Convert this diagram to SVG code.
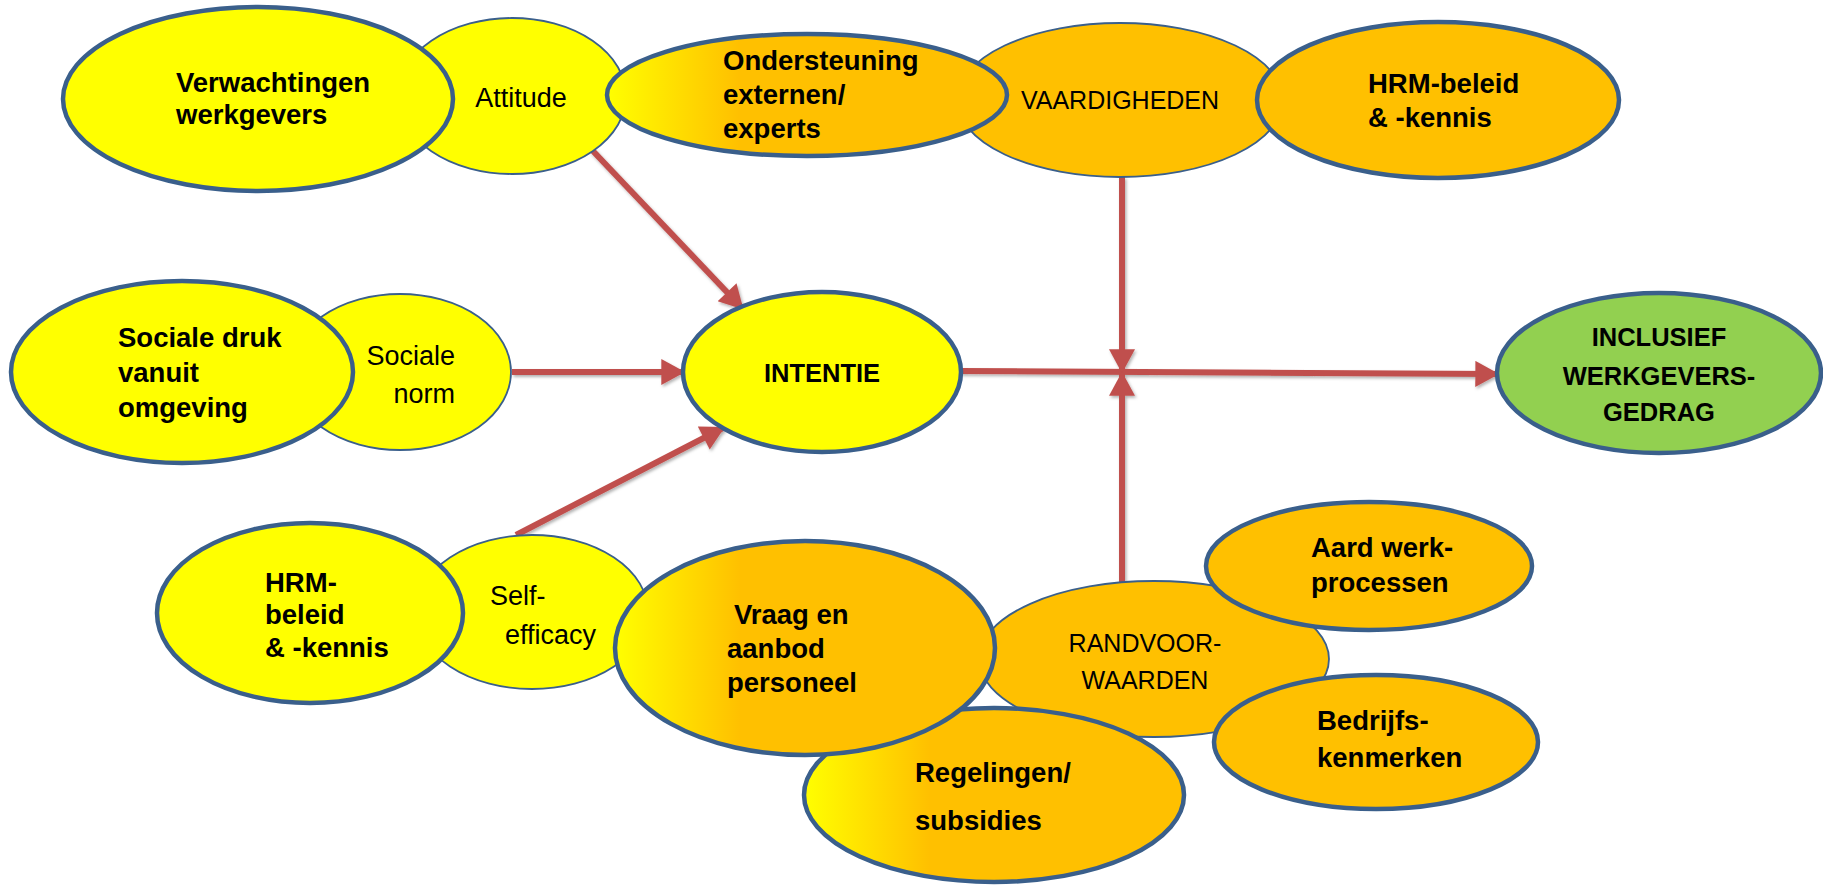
<svg xmlns="http://www.w3.org/2000/svg" width="1823" height="885" viewBox="0 0 1823 885">
<style>
.thick{stroke:#3A5F8B;stroke-width:4.5}
.thin{stroke:#3A5F8B;stroke-width:1.8}
.y{fill:#FFFF00}
.o{fill:#FFC000}
.g{fill:#92D050}
.gr{fill:url(#yo)}
.b{font-family:"Liberation Sans",Arial,sans-serif;font-weight:bold;font-size:27.5px;fill:#000}
.bc{font-family:"Liberation Sans",Arial,sans-serif;font-weight:bold;font-size:25.5px;fill:#000}
.r{font-family:"Liberation Sans",Arial,sans-serif;font-size:27px;fill:#000}
.rc{font-family:"Liberation Sans",Arial,sans-serif;font-size:25px;fill:#000}
.m{text-anchor:middle}
.e{text-anchor:end}
.arr{stroke:#C0504D;stroke-width:6;fill:none;marker-end:url(#ah)}
</style>
<defs>
<linearGradient id="yo" x1="0" y1="0" x2="1" y2="0">
<stop offset="0" stop-color="#FFFF00"/>
<stop offset="0.33" stop-color="#FFC000"/>
<stop offset="1" stop-color="#FFC000"/>
</linearGradient>
<marker id="ah" markerUnits="userSpaceOnUse" markerWidth="26" markerHeight="26" viewBox="0 0 22 24" refX="20" refY="12" orient="auto">
<path d="M0,0 L22,12 L0,24 Z" fill="#C0504D"/>
</marker>
<filter id="sh" filterUnits="userSpaceOnUse" x="0" y="0" width="1823" height="885">
<feDropShadow dx="1.5" dy="2" stdDeviation="1.5" flood-color="#000" flood-opacity="0.3"/>
</filter>
</defs>

<g id="connectors" filter="url(#sh)">
<line class="arr" x1="592" y1="150" x2="742" y2="308"/>
<line class="arr" x1="512" y1="372" x2="683" y2="372"/>
<line class="arr" x1="516" y1="535" x2="723" y2="428"/>
<line class="arr" x1="960" y1="371" x2="1497" y2="374"/>
<line class="arr" x1="1122" y1="177" x2="1122" y2="371"/>
<line class="arr" x1="1122" y1="582" x2="1122" y2="374"/>
</g>

<g id="attitude">
<ellipse class="y thin" cx="512" cy="96" rx="114" ry="78"/>
<text class="r m" x="521" y="107">Attitude</text>
</g>
<g id="verwachtingen">
<ellipse class="y thick" cx="258" cy="99" rx="195" ry="92"/>
<text class="b" x="176" y="92">Verwachtingen</text>
<text class="b" x="176" y="124">werkgevers</text>
</g>
<g id="vaardigheden">
<ellipse class="o thin" cx="1120" cy="100" rx="163" ry="77"/>
<text class="rc m" x="1120" y="109">VAARDIGHEDEN</text>
</g>
<g id="ondersteuning">
<ellipse class="gr thick" cx="807" cy="95" rx="200" ry="61"/>
<text class="b" x="723" y="70">Ondersteuning</text>
<text class="b" x="723" y="104">externen/</text>
<text class="b" x="723" y="138">experts</text>
</g>
<g id="hrm-top">
<ellipse class="o thick" cx="1438" cy="100" rx="181" ry="78"/>
<text class="b" x="1368" y="93">HRM-beleid</text>
<text class="b" x="1368" y="127">&amp; -kennis</text>
</g>

<g id="sociale-norm">
<ellipse class="y thin" cx="400" cy="372" rx="111" ry="78"/>
<text class="r e" x="455" y="365">Sociale</text>
<text class="r e" x="455" y="403">norm</text>
</g>
<g id="sociale-druk">
<ellipse class="y thick" cx="182" cy="372" rx="171" ry="91"/>
<text class="b" x="118" y="347">Sociale druk</text>
<text class="b" x="118" y="382">vanuit</text>
<text class="b" x="118" y="417">omgeving</text>
</g>

<g id="intentie">
<ellipse class="y thick" cx="822" cy="372" rx="139" ry="80"/>
<text class="bc m" x="822" y="382">INTENTIE</text>
</g>

<g id="inclusief">
<ellipse class="g thick" cx="1659" cy="373" rx="162" ry="80"/>
<text class="bc m" x="1659" y="346">INCLUSIEF</text>
<text class="bc m" x="1659" y="385">WERKGEVERS-</text>
<text class="bc m" x="1659" y="421">GEDRAG</text>
</g>

<g id="self-efficacy">
<ellipse class="y thin" cx="532" cy="612" rx="116" ry="77"/>
<text class="r" x="490" y="605">Self-</text>
<text class="r" x="505" y="644">efficacy</text>
</g>
<g id="hrm-left">
<ellipse class="y thick" cx="310" cy="613" rx="153" ry="90"/>
<text class="b" x="265" y="592">HRM-</text>
<text class="b" x="265" y="624">beleid</text>
<text class="b" x="265" y="657">&amp; -kennis</text>
</g>

<g id="randvoorwaarden">
<ellipse class="o thin" cx="1154" cy="659" rx="175" ry="78"/>
<text class="rc m" x="1145" y="652">RANDVOOR-</text>
<text class="rc m" x="1145" y="689">WAARDEN</text>
</g>
<g id="regelingen">
<ellipse class="gr thick" cx="994" cy="795" rx="190" ry="87"/>
<text class="b" x="915" y="782">Regelingen/</text>
<text class="b" x="915" y="830">subsidies</text>
</g>
<g id="vraag">
<ellipse class="gr thick" cx="805" cy="648" rx="190" ry="107"/>
<text class="b" x="734" y="624">Vraag en</text>
<text class="b" x="727" y="658">aanbod</text>
<text class="b" x="727" y="692">personeel</text>
</g>
<g id="aard">
<ellipse class="o thick" cx="1369" cy="566" rx="163" ry="64"/>
<text class="b" x="1311" y="557">Aard werk-</text>
<text class="b" x="1311" y="592">processen</text>
</g>
<g id="bedrijfs">
<ellipse class="o thick" cx="1376" cy="742" rx="162" ry="67"/>
<text class="b" x="1317" y="730">Bedrijfs-</text>
<text class="b" x="1317" y="767">kenmerken</text>
</g>
</svg>
